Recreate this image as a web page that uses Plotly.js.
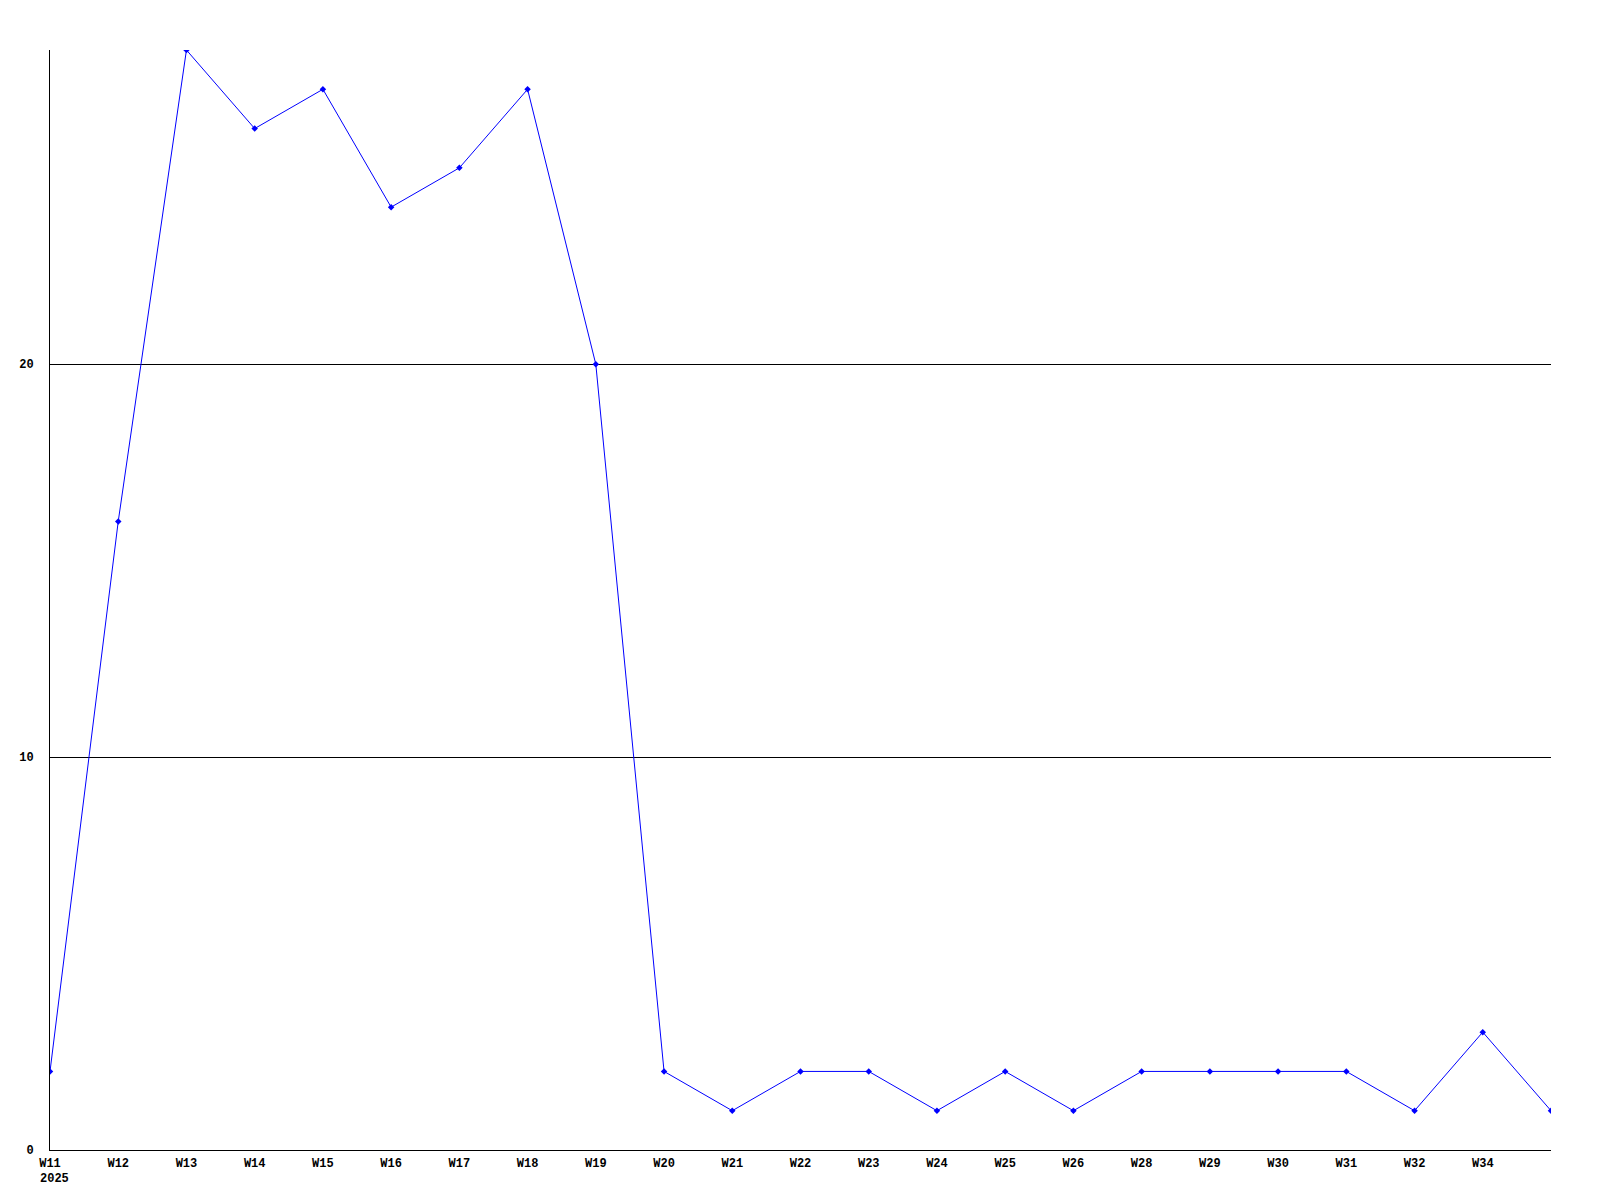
<!DOCTYPE html>
<html>
<head>
<meta charset="utf-8">
<script src="https://cdn.plot.ly/plotly-3.0.1.min.js"></script>
<style>body{margin:0;background:#fff}#chart{width:1600px;height:1200px}</style>
</head>
<body>
<div id="chart"></div>
<script>
const weekLabels = ["W11","W12","W13","W14","W15","W16","W17","W18","W19","W20","W21","W22","W23","W24","W25","W26","W28","W29","W30","W31","W32","W34",""];
const values = [2,16,28,26,27,24,25,27,20,2,1,2,2,1,2,1,2,2,2,2,1,3,1];
const yearLabel = "2025";
const yTicks = [0,10,20];

const xIdx = weekLabels.map((_, i) => i);
const fam = "'Liberation Mono', 'DejaVu Sans Mono', monospace";
const tf = {family: fam, size: 12, color: "#000", weight: "bold"};

Plotly.newPlot("chart", [{
  x: xIdx,
  y: values,
  type: "scatter",
  mode: "lines+markers",
  line: {color: "#0000ff", width: 1},
  marker: {color: "#0000ff", size: 5, symbol: "diamond"},
  hoverinfo: "skip"
}], {
  width: 1600, height: 1200,
  margin: {l: 50, r: 49, t: 50, b: 50},
  paper_bgcolor: "#fff", plot_bgcolor: "#fff",
  showlegend: false,
  font: tf,
  xaxis: {
    range: [0, xIdx.length - 1],
    tickvals: xIdx, ticktext: weekLabels,
    showgrid: false, zeroline: false,
    showline: true, linecolor: "#000", linewidth: 1,
    ticks: "", tickfont: tf,
    ticklabelstandoff: 2
  },
  yaxis: {
    range: [0, 28],
    tickvals: yTicks, ticktext: yTicks.map(String),
    showgrid: true, gridcolor: "#000", gridwidth: 1,
    zeroline: false,
    showline: true, linecolor: "#000", linewidth: 1,
    ticks: "", tickfont: tf,
    ticklabelstandoff: 13
  },
  annotations: [{
    x: 0, xref: "x", xanchor: "left", xshift: -12,
    y: -0.026, yref: "paper", yanchor: "middle",
    text: yearLabel, showarrow: false,
    font: tf
  }]
}, {staticPlot: true});
</script>
</body>
</html>
